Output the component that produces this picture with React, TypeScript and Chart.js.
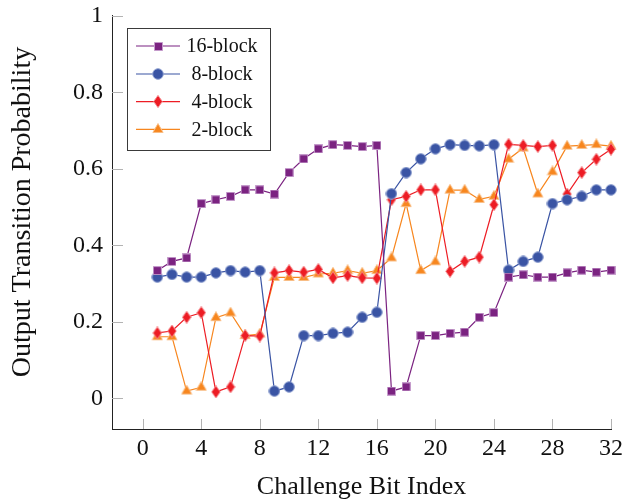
import React, { useEffect, useRef } from 'react';
import { Chart, registerables } from 'chart.js';

Chart.register(...registerables);

const bitIndex = [1, 2, 3, 4, 5, 6, 7, 8, 9, 10, 11, 12, 13, 14, 15, 16, 17, 18, 19, 20, 21, 22, 23, 24, 25, 26, 27, 28, 29, 30, 31, 32];

const block16 = [0.334, 0.358, 0.367, 0.509, 0.519, 0.528, 0.545, 0.545, 0.534, 0.590, 0.626, 0.652, 0.663, 0.661, 0.658, 0.661, 0.019, 0.030, 0.164, 0.164, 0.170, 0.173, 0.212, 0.224, 0.317, 0.323, 0.317, 0.317, 0.328, 0.335, 0.330, 0.335];
const block8 = [0.317, 0.324, 0.317, 0.317, 0.328, 0.334, 0.330, 0.334, 0.019, 0.030, 0.164, 0.164, 0.170, 0.173, 0.212, 0.225, 0.535, 0.590, 0.626, 0.652, 0.663, 0.661, 0.660, 0.663, 0.335, 0.358, 0.369, 0.509, 0.519, 0.528, 0.545, 0.545];
const block4 = [0.171, 0.176, 0.212, 0.224, 0.017, 0.030, 0.164, 0.163, 0.328, 0.334, 0.330, 0.337, 0.315, 0.321, 0.315, 0.314, 0.519, 0.528, 0.545, 0.545, 0.332, 0.358, 0.369, 0.506, 0.664, 0.661, 0.658, 0.661, 0.534, 0.590, 0.625, 0.651];
const block2 = [0.161, 0.161, 0.019, 0.029, 0.211, 0.223, 0.164, 0.168, 0.316, 0.316, 0.316, 0.325, 0.327, 0.334, 0.327, 0.334, 0.367, 0.509, 0.334, 0.357, 0.544, 0.544, 0.520, 0.528, 0.625, 0.654, 0.534, 0.592, 0.659, 0.661, 0.663, 0.659];

const seriesLabels = ['16-block', '8-block', '4-block', '2-block'];
const xTicks = [0, 4, 8, 12, 16, 20, 24, 28, 32];
const yTicks = [0, 0.2, 0.4, 0.6, 0.8, 1];
const xTitle = 'Challenge Bit Index';
const yTitle = 'Output Transition Probability';

const FONT = '"Liberation Serif", "DejaVu Serif", serif';

type Shape = 'square' | 'circle' | 'diamond' | 'triangle';

function makeMarker(shape: Shape, fill: string, stroke: string): HTMLCanvasElement {
  const c = document.createElement('canvas');
  let w = 10, h = 10;
  if (shape === 'square') { w = 9; h = 9; }
  if (shape === 'circle') { w = 12; h = 12; }
  if (shape === 'diamond') { w = 10; h = 13; }
  if (shape === 'triangle') { w = 12; h = 13; }
  c.width = w; c.height = h;
  const ctx = c.getContext('2d')!;
  ctx.fillStyle = fill;
  ctx.strokeStyle = stroke;
  ctx.lineWidth = 1;
  ctx.beginPath();
  if (shape === 'square') {
    ctx.rect(0.5, 0.5, 8, 8);
  } else if (shape === 'circle') {
    ctx.arc(6, 6, 5.3, 0, Math.PI * 2);
  } else if (shape === 'diamond') {
    ctx.moveTo(5, 0.4);
    ctx.lineTo(9.3, 6.5);
    ctx.lineTo(5, 12.6);
    ctx.lineTo(0.7, 6.5);
    ctx.closePath();
  } else {
    const r = 5.9, cx = 6, cy = 6.5;
    for (let i = 0; i < 3; i++) {
      const a = -Math.PI / 2 + (i * 2 * Math.PI) / 3;
      const px = cx + r * Math.cos(a), py = cy + r * Math.sin(a);
      if (i === 0) ctx.moveTo(px, py); else ctx.lineTo(px, py);
    }
    ctx.closePath();
  }
  ctx.fill();
  ctx.stroke();
  return c;
}

const tickPlugin = {
  id: 'innerTicks',
  beforeDatasetsDraw(chart: any) {
    const ctx = chart.ctx as CanvasRenderingContext2D;
    const { left, bottom } = chart.chartArea;
    const xs = chart.scales.x, ys = chart.scales.y;
    ctx.save();
    ctx.strokeStyle = '#b3b3b3';
    ctx.lineWidth = 1;
    ctx.beginPath();
    xTicks.forEach((v) => {
      const px = Math.round(xs.getPixelForValue(v)) + 0.5;
      ctx.moveTo(px, bottom);
      ctx.lineTo(px, bottom - 10);
    });
    yTicks.forEach((v) => {
      const py = Math.round(ys.getPixelForValue(v)) + 0.5;
      ctx.moveTo(left, py);
      ctx.lineTo(left + 11, py);
    });
    ctx.stroke();
    ctx.restore();
  },
  afterDraw(chart: any) {
    const ctx = chart.ctx as CanvasRenderingContext2D;
    ctx.save();
    ctx.translate(23, 212);
    ctx.rotate(-Math.PI / 2);
    ctx.fillStyle = '#111';
    ctx.font = `28px ${FONT}`;
    ctx.textAlign = 'center';
    ctx.textBaseline = 'middle';
    ctx.fillText(yTitle, 0, 0);
    ctx.restore();
  },
};

const legendPlugin = {
  id: 'boxLegend',
  afterDraw(chart: any) {
    const ctx = chart.ctx as CanvasRenderingContext2D;
    const x0 = 127.5, y0 = 28.5, w = 143, h = 122;
    ctx.save();
    ctx.fillStyle = '#ffffff';
    ctx.fillRect(x0, y0, w, h);
    ctx.strokeStyle = '#3a3a3a';
    ctx.lineWidth = 1;
    ctx.strokeRect(x0, y0, w, h);
    const rows = [46, 74, 101.7, 129.3];
    chart.data.datasets.forEach((ds: any, i: number) => {
      const y = rows[i];
      ctx.strokeStyle = ds.borderColor;
      ctx.lineWidth = 1.2;
      ctx.beginPath();
      ctx.moveTo(136, y);
      ctx.lineTo(180, y);
      ctx.stroke();
      const img = ds.pointStyle as HTMLCanvasElement;
      ctx.drawImage(img, Math.round(158 - img.width / 2), Math.round(y - img.height / 2));
      ctx.fillStyle = '#111';
      ctx.font = `20px ${FONT}`;
      ctx.textAlign = 'center';
      ctx.textBaseline = 'middle';
      ctx.fillText(ds.label, 222, y + 1);
    });
    ctx.restore();
  },
};

export default function App() {
  const ref = useRef<HTMLCanvasElement | null>(null);
  useEffect(() => {
    if (!ref.current) return;
    const colors = ['#7B2381', '#3A54A4', '#ED1C24', '#F7861E'];
    const lights = ['#C49ACB', '#8FA0D0', '#F58A8E', '#F9BE86'];
    const shapes: Shape[] = ['square', 'circle', 'diamond', 'triangle'];
    const values = [block16, block8, block4, block2];
    const datasets = values.map((vals, i) => ({
      label: seriesLabels[i],
      data: bitIndex.map((x, j) => ({ x, y: vals[j] })),
      borderColor: colors[i],
      backgroundColor: colors[i],
      borderWidth: 1.2,
      pointStyle: makeMarker(shapes[i], colors[i], lights[i]),
      pointRadius: 5,
      pointHoverRadius: 5,
      tension: 0,
      clip: false as any,
    }));
    const chart = new Chart(ref.current, {
      type: 'line',
      data: { datasets },
      plugins: [tickPlugin, legendPlugin],
      options: {
        animation: false,
        responsive: false,
        events: [],
        layout: { padding: { left: 0, right: 15, top: 15.7, bottom: 0 } },
        plugins: { legend: { display: false }, tooltip: { enabled: false } },
        scales: {
          x: {
            type: 'linear',
            min: -2.1,
            max: 32,
            afterBuildTicks: (s: any) => { s.ticks = xTicks.map((v) => ({ value: v })); },
            afterFit: (s: any) => { s.height = 74; s.paddingLeft = 0; s.paddingRight = 0; },
            grid: { display: false, drawTicks: false, drawOnChartArea: false },
            border: { display: true, color: '#222', width: 1 },
            ticks: {
              padding: 5,
              autoSkip: false,
              maxRotation: 0,
              color: '#111',
              font: { family: FONT, size: 24 },
              callback: (v: any) => String(v),
            },
            title: {
              display: true,
              text: xTitle,
              color: '#111',
              font: { family: FONT, size: 26 },
              padding: { top: 0, bottom: 0 },
            },
          },
          y: {
            type: 'linear',
            min: -0.08,
            max: 1,
            afterBuildTicks: (s: any) => { s.ticks = yTicks.map((v) => ({ value: v })); },
            afterFit: (s: any) => { s.width = 112; s.paddingTop = 0; s.paddingBottom = 0; },
            grid: { display: false, drawTicks: false, drawOnChartArea: false },
            border: { display: true, color: '#222', width: 1 },
            ticks: {
              padding: 9,
              color: '#111',
              font: { family: FONT, size: 24 },
              callback: (v: any) => String(Number(Number(v).toFixed(1))),
            },
            title: { display: false },
          },
        },
      },
    });
    return () => chart.destroy();
  }, []);
  return (
    <div style={{ position: 'fixed', left: 0, top: 0, width: 626, height: 503, background: '#fff' }}>
      <canvas ref={ref} width={626} height={503} style={{ width: 626, height: 503, display: 'block' }} />
    </div>
  );
}
